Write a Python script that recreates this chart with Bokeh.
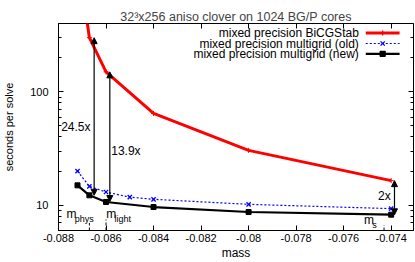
import math
from bokeh.plotting import figure
from bokeh.models import (FixedTicker, LinearAxis, LogAxis, Arrow, NormalHead, Label,
                          CustomJSTickFormatter, Range1d)
from bokeh.embed import file_html
from bokeh.resources import INLINE

# ---------------- data ----------------
mass_bicg = [-0.0872, -0.0867, -0.0860, -0.0840, -0.0800, -0.0740]
time_bicg = [1600, 300, 150, 64.5, 30.5, 16.5]

mass_mg_old = [-0.0872, -0.0867, -0.0860, -0.0850, -0.0840, -0.0800, -0.0740]
time_mg_old = [20.0, 14.7, 13.1, 11.8, 11.3, 10.2, 9.35]

mass_mg_new = [-0.0872, -0.0867, -0.0860, -0.0840, -0.0800, -0.0740]
time_mg_new = [15.0, 12.25, 10.7, 9.66, 8.73, 8.27]

series_names = ["mixed precision BiCGStab", "mixed precision multigrid (old)",
                "mixed precision multigrid (new)"]

# speed-up arrows
arrow_x = [-0.0865, -0.08584, -0.07386]
arrow_top = [300, 150, 16.5]
arrow_bottom = [12.25, 10.8, 8.25]
arrow_text = ["24.5x", "13.9x", "2x"]

# mass markers
mark_names = ["phys", "light", "s"]
mark_mass = [-0.0867, -0.0860, -0.0743]
mark_top = [7.0, 7.5, 6.7]

x_ticks = [-0.088, -0.086, -0.084, -0.082, -0.080, -0.078, -0.076, -0.074]
x_tick_labels = ["-0.088", "-0.086", "-0.084", "-0.082", "-0.08", "-0.078", "-0.076", "-0.074"]
y_ticks = [10, 100]
y_tick_labels = ["10", "100"]
y_minor = [6, 7, 8, 9, 20, 30, 40, 50, 60, 70, 80, 90, 200, 300, 400]

title_text = "32\u00b3x256 aniso clover on 1024 BG/P cores"
x_label = "mass"
y_label = "seconds per solve"

X0, X1 = -0.088, -0.07306
Y0, Y1 = 6, 400

FONT = "Liberation Sans"

W, H = 415, 262
# frame geometry (figure pixels) used to place decorations
FL, FR, FT, FB = 56, 413, 23, 230


def px2x(px):
    return X0 + (px - FL) / (FR - FL) * (X1 - X0)


def py2y(py):
    return 10 ** (math.log10(Y1) - (py - FT) / (FB - FT) * math.log10(Y1 / Y0))


p = figure(width=W, height=H, x_range=Range1d(X0, X1), y_range=Range1d(Y0, Y1),
           y_axis_type="log", output_backend="svg", toolbar_location=None,
           min_border_left=FL, min_border_right=W - FR, min_border_top=FT,
           min_border_bottom=H - FB)
p.background_fill_color = "white"
p.border_fill_color = "white"
p.outline_line_color = "black"
p.outline_line_alpha = 1.0
p.outline_line_width = 1
p.xgrid.visible = False
p.ygrid.visible = False

p.title.text = title_text
p.title.align = "center"
p.title.text_font = FONT
p.title.text_font_size = "12.5px"
p.title.text_font_style = "normal"
p.title.standoff = 0
p.title.offset = 0

xfmt = CustomJSTickFormatter(args=dict(xt=x_ticks, xl=x_tick_labels), code="""
const i = xt.findIndex(t => Math.abs(t - tick) < 1e-9);
return i >= 0 ? xl[i] : '';""")
yfmt = CustomJSTickFormatter(args=dict(yt=y_ticks, yl=y_tick_labels), code="""
const i = yt.findIndex(t => Math.abs(t - tick) < 1e-6);
return i >= 0 ? yl[i] : '';""")


def style_axis(ax):
    ax.axis_line_color = "black"
    ax.major_tick_line_color = "black"
    ax.minor_tick_line_color = "black"
    ax.major_tick_in = 5
    ax.major_tick_out = 0
    ax.minor_tick_in = 3
    ax.minor_tick_out = 0
    ax.major_label_text_font = FONT
    ax.major_label_text_font_size = "11px"
    ax.major_label_text_color = "black"
    ax.axis_label_text_font = FONT
    ax.axis_label_text_font_style = "normal"
    ax.axis_label_text_color = "black"


xa = p.xaxis[0]
xa.ticker = FixedTicker(ticks=x_ticks)
xa.formatter = xfmt
style_axis(xa)
xa.major_label_standoff = 3
xa.axis_label = x_label
xa.axis_label_text_font_size = "12px"
xa.axis_label_standoff = 1

ya = p.yaxis[0]
ya.ticker = FixedTicker(ticks=y_ticks, minor_ticks=y_minor)
ya.formatter = yfmt
style_axis(ya)
ya.major_label_standoff = 10
ya.axis_label = y_label
ya.axis_label_text_font_size = "11px"
ya.axis_label_standoff = 12


# mirror axes (ticks only, no labels)
def mirror(ax):
    style_axis(ax)
    ax.major_label_standoff = 0
    ax.axis_line_color = None
    return ax


top_ax = mirror(LinearAxis(ticker=FixedTicker(ticks=x_ticks),
                           formatter=CustomJSTickFormatter(code="return '';")))
p.add_layout(top_ax, "above")
right_ax = mirror(LogAxis(ticker=FixedTicker(ticks=y_ticks, minor_ticks=y_minor),
                          formatter=CustomJSTickFormatter(code="return '';")))
p.add_layout(right_ax, "right")


def text_label(px, py, txt, size, align="left"):
    p.add_layout(Label(x=px2x(px), y=py2y(py), text=txt, text_align=align,
                       text_baseline="middle", text_font=FONT, text_font_size=size,
                       text_color="black"))


# ---------------- series ----------------
RED, BLUE, BLACK = "#ff0000", "#0000ff", "#000000"
p.line(mass_bicg, time_bicg, line_color=RED, line_width=3)
p.scatter(mass_bicg, time_bicg, marker="cross", size=5, line_color=RED, line_width=1)

p.line(mass_mg_old, time_mg_old, line_color=BLUE, line_width=1.2, line_dash="2 2")
p.scatter(mass_mg_old, time_mg_old, marker="x", size=6, line_color=BLUE, line_width=1.3)

p.line(mass_mg_new, time_mg_new, line_color=BLACK, line_width=2.2)
p.scatter(mass_mg_new, time_mg_new, marker="square", size=5, fill_color=BLACK, line_color=BLACK)

# ---------------- manual legend (gnuplot style) ----------------
leg_rows = [32.5, 43.0, 53.3]
leg_text_right = 358
leg_line = (365, 399)
leg_styles = [
    dict(color=RED, width=3, dash="solid", marker="cross", fill=None),
    dict(color=BLUE, width=1.2, dash="2 2", marker="x", fill=None),
    dict(color=BLACK, width=2.2, dash="solid", marker="square", fill=BLACK),
]
for name, row, st in zip(series_names, leg_rows, leg_styles):
    yy = py2y(row)
    text_label(leg_text_right, row, name, "12px", "right")
    p.line([px2x(leg_line[0]), px2x(leg_line[1])], [yy, yy], line_color=st["color"],
           line_width=st["width"], line_dash=st["dash"])
    p.scatter([px2x((leg_line[0] + leg_line[1]) / 2)], [yy], marker=st["marker"],
              size=5 if st["marker"] != "x" else 6, line_color=st["color"],
              fill_color=st["fill"], line_width=1.3)

# ---------------- speed-up arrows ----------------
for ax_, top, bot in zip(arrow_x, arrow_top, arrow_bottom):
    p.add_layout(Arrow(x_start=ax_, y_start=bot, x_end=ax_, y_end=top,
                       line_color="black", line_width=1.2,
                       start=NormalHead(size=6, fill_color="black", line_color="black"),
                       end=NormalHead(size=6, fill_color="black", line_color="black")))

label_pos = [(58.7, 126.0, "left"), (109.0, 150.7, "left"), (390.0, 195.0, "right")]
for (lx, ly, al), txt in zip(label_pos, arrow_text):
    text_label(lx, ly, txt, "12px", al)

# ---------------- mass markers ----------------
p.segment(x0=mark_mass, y0=[Y0] * len(mark_mass), x1=mark_mass, y1=mark_top,
          line_color="black", line_width=1, line_dash="3 2")

m_pos = [(64.0, 213.3), (104.0, 213.3), (363.3, 219.3)]
for (mx, my), sub in zip(m_pos, mark_names):
    text_label(mx, my, "m", "12px")
    text_label(mx + 8.3, my + 5.0, sub, "9px")

open("out.html", "w").write(file_html(p, INLINE))
